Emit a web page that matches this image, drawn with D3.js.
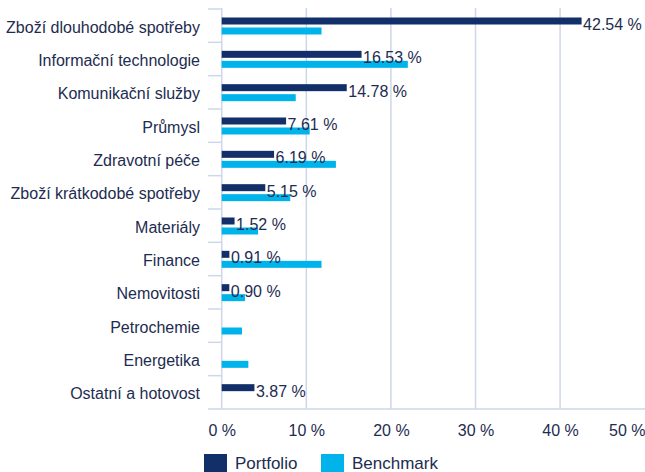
<!DOCTYPE html>
<html>
<head>
<meta charset="utf-8">
<script src="https://cdn.jsdelivr.net/npm/d3@7"></script>
<style>
  body { margin: 0; background: #fff; }
  text { font-family: "Liberation Sans", Arial, sans-serif; }
</style>
</head>
<body>
<div id="chart"></div>
<script>
const categories = [
  'Zboží dlouhodobé spotřeby', 'Informační technologie', 'Komunikační služby',
  'Průmysl', 'Zdravotní péče', 'Zboží krátkodobé spotřeby', 'Materiály',
  'Finance', 'Nemovitosti', 'Petrochemie', 'Energetika', 'Ostatní a hotovost'
]
const portfolio = [42.54, 16.53, 14.78, 7.61, 6.19, 5.15, 1.52, 0.91, 0.90, null, null, 3.87]
const benchmark = [11.8, 22.0, 8.75, 10.4, 13.5, 8.1, 4.3, 11.8, 2.75, 2.4, 3.15, 0]
const xTicks = [0, 10, 20, 30, 40, 50]
const seriesNames = ['Portfolio', 'Benchmark']

const w = 645, h = 472
const navy = '#132f69', cyan = '#00b4eb', grid = '#cdd7e8', ink = '#1d2c50'

const svg = d3.select('#chart').append('svg')
  .attr('width', w).attr('height', h)

// Scales
const x = d3.scaleLinear().domain([0, 50]).range([221.7, 644.7])
const y = d3.scaleBand().domain(categories).range([9, 409])
const ySub = d3.scaleBand().domain(seriesNames).range([8.5, 25.5]).paddingInner(0.3)
const color = d3.scaleOrdinal().domain(seriesNames).range([navy, cyan])

// vertical grid lines
svg.append('g').selectAll('line')
  .data(xTicks.filter(t => t > 0 && t < 50))
  .enter().append('line')
  .attr('x1', d => x(d)).attr('x2', d => x(d))
  .attr('y1', 8).attr('y2', 409)
  .attr('stroke', grid).attr('stroke-width', 1.5)

// x axis
const xAxis = d3.axisBottom(x).tickValues(xTicks).tickSize(0).tickPadding(16)
  .tickFormat(d => d + ' %')
const gx = svg.append('g').attr('transform', 'translate(0,409)').call(xAxis)
gx.select('.domain').remove()
gx.selectAll('text').attr('fill', ink).attr('font-size', 16)
  .attr('text-anchor', d => d === 50 ? 'end' : 'middle')
  .attr('x', d => d === 50 ? w - x(50) : 0)
svg.append('line').attr('x1', 208).attr('x2', w).attr('y1', 409).attr('y2', 409)
  .attr('stroke', grid).attr('stroke-width', 1.5)

// y axis
svg.append('line').attr('x1', x(0)).attr('x2', x(0)).attr('y1', 8).attr('y2', 409)
  .attr('stroke', grid).attr('stroke-width', 1.5)
svg.append('g').selectAll('line')
  .data(categories)
  .enter().append('line')
  .attr('x1', 208).attr('x2', x(0))
  .attr('y1', d => y(d)).attr('y2', d => y(d))
  .attr('stroke', grid).attr('stroke-width', 1.5)

svg.append('g').selectAll('text')
  .data(categories)
  .enter().append('text')
  .attr('x', 200)
  .attr('y', d => y(d) + 23.5)
  .attr('text-anchor', 'end')
  .attr('font-size', 16)
  .attr('fill', ink)
  .text(d => d)

// bars
const rows = categories.map((c, i) => ({ c, p: portfolio[i], b: benchmark[i] }))

svg.append('g').selectAll('rect')
  .data(rows.filter(d => d.b > 0))
  .enter().append('rect')
  .attr('x', x(0))
  .attr('y', d => y(d.c) + ySub('Benchmark'))
  .attr('width', d => x(d.b) - x(0))
  .attr('height', ySub.bandwidth())
  .attr('fill', color('Benchmark'))

svg.append('g').selectAll('rect')
  .data(rows.filter(d => d.p != null))
  .enter().append('rect')
  .attr('x', x(0))
  .attr('y', d => y(d.c) + ySub('Portfolio'))
  .attr('width', d => x(d.p) - x(0))
  .attr('height', ySub.bandwidth())
  .attr('fill', color('Portfolio'))

// value labels
svg.append('g').selectAll('text')
  .data(rows.filter(d => d.p != null))
  .enter().append('text')
  .attr('x', d => x(d.p) + 1.5)
  .attr('y', d => y(d.c) + 21)
  .attr('font-size', 16)
  .attr('fill', ink)
  .text(d => d.p.toFixed(2) + ' %')

// legend
const legendX = [204, 321]
const legend = svg.append('g').selectAll('g')
  .data(seriesNames)
  .enter().append('g')
  .attr('transform', (d, i) => 'translate(' + legendX[i] + ',454)')
legend.append('rect').attr('width', 23).attr('height', 20).attr('fill', d => color(d))
legend.append('text').attr('x', 31).attr('y', 14.5)
  .attr('font-size', 17).attr('fill', ink).text(d => d)
</script>
</body>
</html>
